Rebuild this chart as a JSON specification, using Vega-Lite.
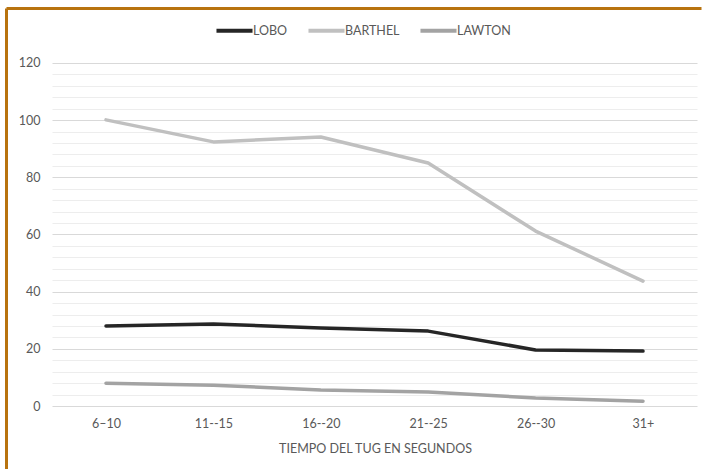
{
  "$schema": "https://vega.github.io/schema/vega-lite/v6.json",
  "width": 695,
  "height": 461,
  "autosize": {"type": "none"},
  "padding": {"left": 6, "top": 8, "right": 1, "bottom": 0},
  "background": "white",
  "config": {"view": {"stroke": null}, "font": "Lato"},
  "data": {
    "values": [
      {"tiempo": "6–10", "serie": "LOBO", "valor": 28.0},
      {"tiempo": "11--15", "serie": "LOBO", "valor": 28.7},
      {"tiempo": "16--20", "serie": "LOBO", "valor": 27.3},
      {"tiempo": "21--25", "serie": "LOBO", "valor": 26.2},
      {"tiempo": "26--30", "serie": "LOBO", "valor": 19.6},
      {"tiempo": "31+", "serie": "LOBO", "valor": 19.2},
      {"tiempo": "6–10", "serie": "BARTHEL", "valor": 100.1},
      {"tiempo": "11--15", "serie": "BARTHEL", "valor": 92.4},
      {"tiempo": "16--20", "serie": "BARTHEL", "valor": 94.1},
      {"tiempo": "21--25", "serie": "BARTHEL", "valor": 85.0},
      {"tiempo": "26--30", "serie": "BARTHEL", "valor": 61.2},
      {"tiempo": "31+", "serie": "BARTHEL", "valor": 43.7},
      {"tiempo": "6–10", "serie": "LAWTON", "valor": 8.0},
      {"tiempo": "11--15", "serie": "LAWTON", "valor": 7.3},
      {"tiempo": "16--20", "serie": "LAWTON", "valor": 5.6},
      {"tiempo": "21--25", "serie": "LAWTON", "valor": 4.9},
      {"tiempo": "26--30", "serie": "LAWTON", "valor": 2.8},
      {"tiempo": "31+", "serie": "LAWTON", "valor": 1.7}
    ]
  },
  "resolve": {"axis": {"x": "independent", "y": "independent"}},
  "layer": [
    {
      "mark": {"type": "point", "opacity": 0},
      "encoding": {
        "x": {
          "field": "tiempo", "type": "ordinal", "sort": null,
          "scale": {"type": "point", "padding": 0.7356, "align": 0.6329},
          "axis": {"orient": "top", "domain": true, "domainColor": "#b8730f", "domainWidth": 3, "ticks": false, "labels": false, "title": null, "grid": false}
        },
        "y": {
          "field": "valor", "type": "quantitative",
          "scale": {"domain": [-22.04, 139.24], "nice": false, "zero": false},
          "axis": {"orient": "right", "offset": -649, "values": [0,4,8,12,16,20,24,28,32,36,40,44,48,52,56,60,64,68,72,76,80,84,88,92,96,100,104,108,112,116,120], "tickSize": 645, "tickWidth": 1, "tickColor": {"condition": {"test": "datum.value % 20 === 0", "value": "#d9d9d9"}, "value": "#ededed"}, "labels": false, "domain": false, "grid": false, "title": null, "zindex": 0}
        }
      }
    },
    {
      "mark": {"type": "point", "opacity": 0},
      "encoding": {
        "x": {
          "field": "tiempo", "type": "ordinal", "sort": null,
          "scale": {"type": "point", "padding": 0.7356, "align": 0.6329},
          "axis": {"orient": "bottom", "offset": -63, "domain": false, "ticks": false, "labelPadding": 11, "labelFontSize": 12.5, "labelColor": "#595959", "labelAngle": 0, "title": "TIEMPO DEL TUG EN SEGUNDOS", "titleFontSize": 12.5, "titleFontWeight": "normal", "titleColor": "#595959", "titlePadding": 13, "titleX": 369, "grid": false}
        },
        "y": {
          "field": "valor", "type": "quantitative",
          "scale": {"domain": [-22.04, 139.24], "nice": false, "zero": false},
          "axis": {"orient": "left", "domain": true, "domainColor": "#b8730f", "domainWidth": 3, "ticks": false, "tickSize": 0, "values": [0,20,40,60,80,100,120], "labelPadding": -34, "labelFontSize": 12.5, "labelColor": "#595959", "grid": false, "title": null}
        }
      }
    },
    {
      "mark": {"type": "line", "strokeWidth": 3.5, "strokeCap": "round", "strokeJoin": "round"},
      "encoding": {
        "x": {"field": "tiempo", "type": "ordinal", "sort": null, "scale": {"type": "point", "padding": 0.7356, "align": 0.6329}, "axis": null},
        "y": {"field": "valor", "type": "quantitative", "scale": {"domain": [-22.04, 139.24], "nice": false, "zero": false}, "axis": null},
        "color": {
          "field": "serie", "type": "nominal",
          "scale": {"domain": ["LOBO", "BARTHEL", "LAWTON"], "range": ["#262626", "#c0c0c0", "#a3a3a3"]},
          "legend": {"orient": "none", "legendX": 208, "legendY": 2, "direction": "horizontal", "title": null, "symbolType": "stroke", "symbolSize": 1300, "symbolStrokeWidth": 4, "labelFontSize": 12.5, "labelColor": "#595959", "columnPadding": 12, "labelOffset": -2}
        }
      }
    }
  ]
}
